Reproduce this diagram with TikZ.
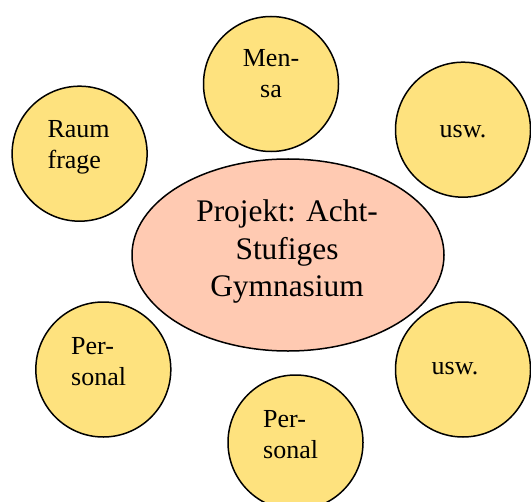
\documentclass[tikz,border=0pt]{standalone}
\usepackage{fontspec}
\setmainfont{Liberation Serif}
\usetikzlibrary{shapes.geometric}
\definecolor{bubblefill}{RGB}{254,226,126}
\definecolor{corefill}{RGB}{255,202,178}
\tikzset{
  bubble/.style={circle, draw=black, line width=1.5bp, fill=bubblefill,
    minimum size=135bp, inner sep=0pt},
  core/.style={ellipse, draw=black, line width=1.5bp, fill=corefill,
    minimum width=312bp, minimum height=192bp, inner sep=0pt},
  small/.style={inner sep=0pt, font=\rmfamily\fontsize{26bp}{31bp}\selectfont},
  big/.style={inner sep=0pt, align=center, font=\rmfamily\fontsize{31.4bp}{37.5bp}\selectfont},
}
\begin{document}
\begin{tikzpicture}[x=1bp, y=-1bp]
  \useasboundingbox (0,0) rectangle (531,502);
  \clip (0,0) rectangle (531,502);

  % central topic
  \node[core] (core) at (288,255) {};

  % surrounding topics
  \node[bubble] (mensa)   at (271,84)    {};
  \node[bubble] (raum)    at (79.6,153.7) {};
  \node[bubble] (uswtop)  at (463,129.7) {};
  \node[bubble] (persl)   at (103.3,369.5) {};
  \node[bubble] (uswbot)  at (463,369.5) {};
  \node[bubble] (persb)   at (295.5,442.5) {};

  % labels (multi-line labels are anchored at the baseline of their last line)
  \node[big, anchor=base] (coretext) at (287,296.7) {Projekt: Acht-\\Stufiges\\Gymnasium};
  \node[small, align=center, anchor=base] (mensatext) at (271,97.5) {Men-\\sa};
  \node[small, align=left, anchor=base west] (raumtext) at (47.4,169) {Raum\\frage};
  \node[small, anchor=base] (uswtoptext) at (463,138) {usw.};
  \node[small, align=left, anchor=base west] (persltext) at (71,385.5) {Per-\\sonal};
  \node[small, anchor=base] (uswbottext) at (455,374.6) {usw.};
  \node[small, align=left, anchor=base west] (persbtext) at (263,458) {Per-\\sonal};
\end{tikzpicture}
\end{document}
